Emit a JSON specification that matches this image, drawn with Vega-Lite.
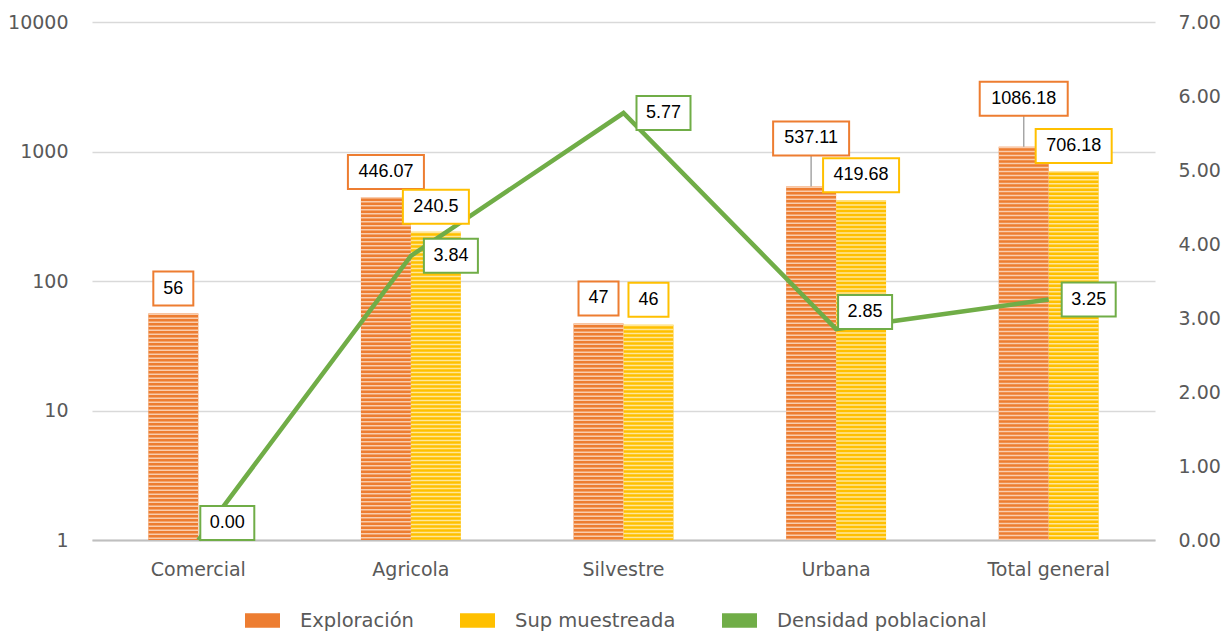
{
  "$schema": "https://vega.github.io/schema/vega-lite/v6.json",
  "width": 1063,
  "height": 518,
  "autosize": "none",
  "padding": {"left": 92, "top": 22, "right": 70, "bottom": 92},
  "background": "white",
  "config": {
    "view": {"stroke": null},
    "font": "DejaVu Sans",
    "axis": {"labelFont": "DejaVu Sans", "labelFontSize": 19, "labelColor": "#595959", "ticks": false, "title": null}
  },
  "datasets": {
    "bars": [
      {"cat": "Comercial", "series": "Exploración", "value": 56},
      {"cat": "Agricola", "series": "Exploración", "value": 446.07},
      {"cat": "Agricola", "series": "Sup muestreada", "value": 240.5},
      {"cat": "Silvestre", "series": "Exploración", "value": 47},
      {"cat": "Silvestre", "series": "Sup muestreada", "value": 46},
      {"cat": "Urbana", "series": "Exploración", "value": 537.11},
      {"cat": "Urbana", "series": "Sup muestreada", "value": 419.68},
      {"cat": "Total general", "series": "Exploración", "value": 1086.18},
      {"cat": "Total general", "series": "Sup muestreada", "value": 706.18}
    ],
    "dens": [
      {"cat": "Comercial", "dens": 0},
      {"cat": "Agricola", "dens": 3.84},
      {"cat": "Silvestre", "dens": 5.77},
      {"cat": "Urbana", "dens": 2.85},
      {"cat": "Total general", "dens": 3.25}
    ]
  },
  "layer": [
    {
      "data": {"name": "bars"},
      "encoding": {
        "x": {"field": "cat", "type": "nominal", "sort": ["Comercial", "Agricola", "Silvestre", "Urbana", "Total general"], "scale": {"paddingInner": 0.53, "paddingOuter": 0.265}, "axis": {"labelAngle": 0, "labelPadding": 20, "domainColor": "#BFBFBF", "domainWidth": 2}},
        "xOffset": {"field": "series", "type": "nominal", "scale": {"domain": ["Exploración", "Sup muestreada"], "paddingInner": 0, "paddingOuter": 0}},
        "y": {"field": "value", "type": "quantitative", "scale": {"type": "log", "domain": [1, 10000], "nice": false}, "axis": {"values": [1, 10, 100, 1000, 10000], "format": "d", "grid": true, "gridColor": "#D9D9D9", "gridWidth": 1.5, "domain": false, "labelPadding": 24}},
        "y2": {"datum": 1}
      },
      "layer": [
        {
          "mark": {"type": "bar", "opacity": 1},
          "encoding": {
            "color": {"field": "series", "type": "nominal", "scale": {"domain": ["Exploración", "Sup muestreada", "Densidad poblacional"], "range": ["#ED7D31", "#FFC000", "#70AD47"]},
              "legend": {"title": null, "orient": "none", "legendX": 153, "legendY": 581, "direction": "horizontal", "symbolType": "M-1,-0.42H1V0.42H-1Z", "symbolSize": 1225, "symbolStrokeWidth": 0, "labelFont": "DejaVu Sans", "labelFontSize": 19.5, "labelColor": "#595959", "labelOffset": 20, "labelLimit": 400, "columnPadding": 46,
                "encode": {"symbols": {"update": {"shape": {"signal": "datum.value === 'Densidad poblacional' ? 'M-1,-0.13H1V0.13H-1Z' : 'M-1,-0.42H1V0.42H-1Z'"}}}}}}
          }
        },
        {
          "mark": {"type": "rule", "strokeWidth": 50, "strokeDash": [1.5, 2.5], "strokeCap": "butt"},
          "encoding": {
            "stroke": {"field": "series", "type": "nominal", "scale": {"domain": ["Exploración", "Sup muestreada"], "range": ["#F9CDAE", "#FFE699"]}, "legend": null}
          }
        }
      ]
    },
    {
      "data": {"name": "dens"},
      "encoding": {
        "x": {"field": "cat", "type": "nominal", "sort": ["Comercial", "Agricola", "Silvestre", "Urbana", "Total general"]},
        "y": {"field": "dens", "type": "quantitative", "scale": {"domain": [0, 7], "nice": false}, "axis": {"orient": "right", "values": [0, 1, 2, 3, 4, 5, 6, 7], "format": ".2f", "grid": false, "domain": false, "labelPadding": 23}}
      },
      "layer": [
        {"mark": {"type": "line", "color": "#70AD47", "strokeWidth": 4.5}},
        {"transform": [{"filter": "datum.cat !== 'Comercial' && datum.cat !== 'Urbana'"}],
         "mark": {"type": "point", "shape": "M-27,-17H27V17H-27Z", "size": 4, "filled": true, "fill": "white", "stroke": "#70AD47", "strokeWidth": 2, "opacity": 1, "xOffset": 40}},
        {"transform": [{"filter": "datum.cat === 'Comercial' || datum.cat === 'Urbana'"}],
         "mark": {"type": "point", "shape": "M-27,-17H27V17H-27Z", "size": 4, "filled": true, "fill": "white", "stroke": "#70AD47", "strokeWidth": 2, "opacity": 1, "xOffset": 29, "yOffset": -17}},
        {"transform": [{"filter": "datum.cat !== 'Comercial' && datum.cat !== 'Urbana'"}],
         "mark": {"type": "text", "font": "Liberation Sans", "fontSize": 18, "color": "black", "align": "center", "baseline": "middle", "dx": 40},
         "encoding": {"text": {"field": "dens", "type": "quantitative", "format": ".2f"}}},
        {"transform": [{"filter": "datum.cat === 'Comercial' || datum.cat === 'Urbana'"}],
         "mark": {"type": "text", "font": "Liberation Sans", "fontSize": 18, "color": "black", "align": "center", "baseline": "middle", "dx": 29, "dy": -17},
         "encoding": {"text": {"field": "dens", "type": "quantitative", "format": ".2f"}}}
      ]
    },
    {
      "data": {"name": "bars"},
      "transform": [{"calculate": "length(toString(datum.value))", "as": "len"}],
      "encoding": {
        "x": {"field": "cat", "type": "nominal", "sort": ["Comercial", "Agricola", "Silvestre", "Urbana", "Total general"]},
        "xOffset": {"field": "series", "type": "nominal", "scale": {"domain": ["Exploración", "Sup muestreada"], "paddingInner": 0, "paddingOuter": 0}},
        "y": {"field": "value", "type": "quantitative", "scale": {"type": "log", "domain": [1, 10000], "nice": false}, "axis": null}
      },
      "layer": [
        {"transform": [{"filter": "datum.value > 500 && datum.series === 'Exploración'"}],
         "mark": {"type": "rule", "color": "#A6A6A6", "strokeWidth": 1.5, "y2Offset": -31},
         "encoding": {"y2": {"field": "value"}}},
        {"transform": [{"filter": "!(datum.value > 500 && datum.series === 'Exploración')"}],
         "mark": {"type": "point", "size": 4, "filled": true, "fill": "white", "strokeWidth": 2, "opacity": 1, "yOffset": -25},
         "encoding": {
           "shape": {"field": "len", "type": "ordinal", "scale": {"domain": [2, 5, 6, 7], "range": ["M-20,-17H20V17H-20Z", "M-33,-17H33V17H-33Z", "M-38,-17H38V17H-38Z", "M-44,-17H44V17H-44Z"]}, "legend": null},
           "stroke": {"field": "series", "type": "nominal", "scale": {"domain": ["Exploración", "Sup muestreada"], "range": ["#ED7D31", "#FFC000"]}, "legend": null}
         }},
        {"transform": [{"filter": "datum.value > 500 && datum.series === 'Exploración'"}],
         "mark": {"type": "point", "size": 4, "filled": true, "fill": "white", "strokeWidth": 2, "opacity": 1, "yOffset": -48},
         "encoding": {
           "shape": {"field": "len", "type": "ordinal", "scale": {"domain": [2, 5, 6, 7], "range": ["M-20,-17H20V17H-20Z", "M-33,-17H33V17H-33Z", "M-38,-17H38V17H-38Z", "M-44,-17H44V17H-44Z"]}, "legend": null},
           "stroke": {"field": "series", "type": "nominal", "scale": {"domain": ["Exploración", "Sup muestreada"], "range": ["#ED7D31", "#FFC000"]}, "legend": null}
         }},
        {"transform": [{"filter": "!(datum.value > 500 && datum.series === 'Exploración')"}],
         "mark": {"type": "text", "font": "Liberation Sans", "fontSize": 18, "color": "black", "align": "center", "baseline": "middle", "dy": -25},
         "encoding": {"text": {"field": "value", "type": "nominal"}}},
        {"transform": [{"filter": "datum.value > 500 && datum.series === 'Exploración'"}],
         "mark": {"type": "text", "font": "Liberation Sans", "fontSize": 18, "color": "black", "align": "center", "baseline": "middle", "dy": -48},
         "encoding": {"text": {"field": "value", "type": "nominal"}}}
      ]
    }
  ],
  "resolve": {"scale": {"y": "independent", "stroke": "independent"}}
}
